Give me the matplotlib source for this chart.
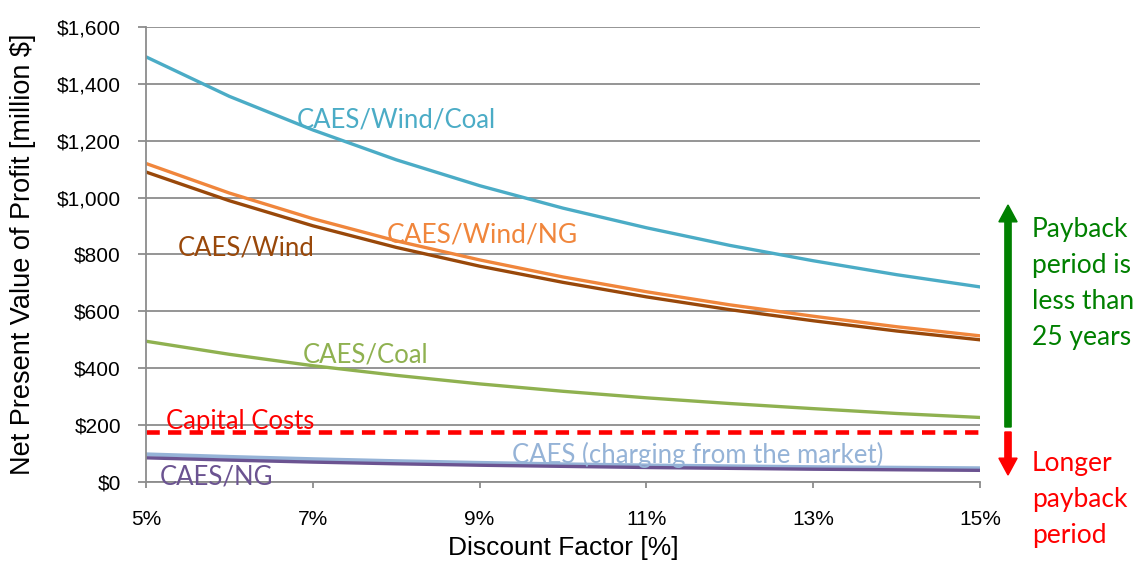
import matplotlib
matplotlib.use("Agg")
import matplotlib.pyplot as plt
from matplotlib.ticker import FuncFormatter

# discount factor [%] and NPV of profit [million $]
rate = [5, 6, 7, 8, 9, 10, 11, 12, 13, 14, 15]
wind_coal = [1495, 1356, 1238, 1133, 1042, 963, 894, 832, 778, 729, 686]
wind_ng = [1120, 1016, 926, 848, 781, 721, 669, 623, 583, 546, 514]
wind = [1090, 989, 901, 825, 759, 702, 651, 606, 567, 531, 500]
coal = [495, 449, 409, 375, 345, 319, 296, 276, 258, 241, 227]
market = [97, 88, 80, 73, 67, 62, 58, 55, 52, 50, 48]
ng = [85, 77, 70, 64, 59, 55, 51, 48, 45, 43, 41]
capital_cost = 177

xticks = [5, 7, 9, 11, 13, 15]
yticks = [0, 200, 400, 600, 800, 1000, 1200, 1400, 1600]

lbl_font = ["Lato", "DejaVu Sans"]
plt.rcParams['font.family'] = ['Liberation Sans', 'DejaVu Sans']

fig = plt.figure(figsize=(11.38, 5.61), dpi=100)
ax = fig.add_axes([0.1283, 0.1408, 0.8612 - 0.1283, 0.9519 - 0.1408])

grid_c = "#8c8c8c"
ax.set_xlim(5, 15)
ax.set_ylim(0, 1600)
ax.set_yticks(yticks)
ax.set_xticks(xticks)
ax.yaxis.set_major_formatter(FuncFormatter(lambda v, p: "${:,.0f}".format(v)))
ax.xaxis.set_major_formatter(FuncFormatter(lambda v, p: "%d%%" % v))
ax.grid(axis="y", color=grid_c, linewidth=1.3)
ax.set_axisbelow(True)
for s in ["top", "right"]:
    ax.spines[s].set_visible(False)
for s in ["left", "bottom"]:
    ax.spines[s].set_color(grid_c)
    ax.spines[s].set_linewidth(1.3)
ax.tick_params(axis="y", length=6, color=grid_c, width=1.3, labelsize=15, pad=12)
ax.tick_params(axis="x", length=4, color=grid_c, width=1.3, labelsize=15, pad=16)

ax.plot(rate, wind_coal, color="#4BACC6", lw=2.4)
ax.plot(rate, wind_ng, color="#F0863C", lw=2.4)
ax.plot(rate, wind, color="#99480A", lw=2.4)
ax.plot(rate, coal, color="#8FB150", lw=2.4)
ax.plot(rate, market, color="#95B3D7", lw=3)
ax.plot(rate, ng, color="#6B5391", lw=2.4)
ax.axhline(capital_cost, color="#FF0000", lw=3.3, dashes=(2.9, 1.8))

fs = 18.5
ax.text(6.81, 1273, "CAES/Wind/Coal", color="#4BACC6", fontsize=fs, family=lbl_font, va="center")
ax.text(7.89, 868, "CAES/Wind/NG", color="#F0863C", fontsize=19, family=lbl_font, va="center")
ax.text(5.38, 823, "CAES/Wind", color="#99480A", fontsize=fs, family=lbl_font, va="center")
ax.text(6.88, 447, "CAES/Coal", color="#8FB150", fontsize=fs, family=lbl_font, va="center")
ax.text(5.24, 214, "Capital Costs", color="#FF0000", fontsize=fs, family=lbl_font, va="center")
ax.text(9.39, 95, "CAES (charging from the market)", color="#95B3D7", fontsize=fs, family=lbl_font, va="center")
ax.text(5.16, 18, "CAES/NG", color="#6B5391", fontsize=fs, family=lbl_font, va="center")

ax.set_xlabel("Discount Factor [%]", fontsize=19, labelpad=5)
ax.set_ylabel("Net Present Value of Profit [million $]", fontsize=19.5, labelpad=15)

# payback arrows outside the plot area
fig.patches.append(matplotlib.patches.FancyArrow(
    1008 / 1138, 1 - 427 / 561, 0, (427 - 205) / 561 - 0.03, width=0.0055,
    head_width=0.016, head_length=0.03, color="#008000", transform=fig.transFigure,
    length_includes_head=False))
fig.patches.append(matplotlib.patches.FancyArrow(
    1008 / 1138, 1 - 432 / 561, 0, -(475 - 432) / 561 + 0.03, width=0.0055,
    head_width=0.016, head_length=0.03, color="#FF0000", transform=fig.transFigure,
    length_includes_head=False))
fig.text(1032 / 1138, 1 - 217 / 561, "Payback\nperiod is\nless than\n25 years", color="#008000",
         fontsize=19, family=lbl_font, va="top", ha="left", linespacing=1.55)
fig.text(1032 / 1138, 1 - 451 / 561, "Longer\npayback\nperiod", color="#FF0000",
         fontsize=19, family=lbl_font, va="top", ha="left", linespacing=1.55)

fig.savefig("out.png", dpi=100)
